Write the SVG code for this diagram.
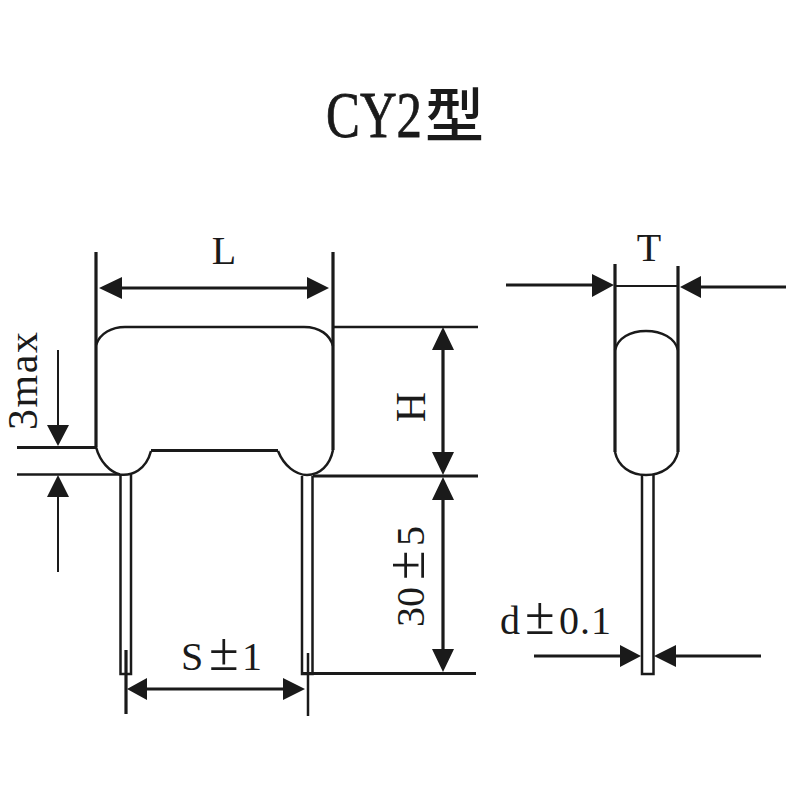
<svg xmlns="http://www.w3.org/2000/svg" width="800" height="800" viewBox="0 0 800 800">
<style>
.o{fill:none;stroke:#1a1a1a;stroke-width:2.5}
.b{fill:none;stroke:#1a1a1a;stroke-width:3.2}
.t{fill:none;stroke:#1a1a1a;stroke-width:2}
.h{fill:#1a1a1a}
text{font-family:"Liberation Serif","Noto Sans CJK SC",serif;fill:#1a1a1a}
.l{font-size:40px}
.p{font-size:54px}
</style>
<rect width="800" height="800" fill="#fff"/>
<g id="title">
<text transform="translate(326 137) scale(.77 1)" font-size="66" stroke="#1a1a1a" stroke-width="0.8">CY2</text>
<text x="425" y="137" font-size="59" font-weight="500" style="font-family:'Noto Sans CJK SC',sans-serif">型</text>
</g>
<g id="front-view">
<path class="o" d="M96 345C100 333 112 327 125 327H304C320 327 330 335 333 346"/>
<path class="b" d="M96 252V447M333 252V450"/>
<path class="o" d="M96 447C100 462 110 472 120 474.500C132 476 146 470 151 451"/>
<path class="b" d="M151 450.500H278"/>
<path class="o" d="M278 451C284 466 296 475 307 475C320 475 330 465 333 450"/>
<path class="o" d="M120.500 475V674H131V475M302 476V674H312.500V476"/>
</g>
<g id="side-view">
<path class="b" d="M615 264V452M678 266V452"/>
<path class="o" d="M615 350C618 338 630 331 646 331C662 331 675 338 678 350M615 452C618 466 630 475 646 475C662 475 675 466 678 452"/>
<path class="o" d="M642 475V674H653.500V475"/>
</g>
<g id="connectors">
<path class="b" d="M115 288H315"/>
<path class="h" d="M99 288L122 277V299ZM329 288L307 277V299Z"/>
<path class="o" d="M333 327H478"/>
<path class="b" d="M17 447.500H96"/>
<path class="o" d="M17 474.500H120"/>
<path class="b" d="M313 476H478M302 673.500H476"/>
<path class="b" d="M443 345V460M443 490V655"/>
<path class="h" d="M443 327L432 350H454ZM443 475L432 452H454ZM443 477L432 500H454ZM443 672L432 649H454Z"/>
<path class="t" d="M58 350V430M58 490V572"/>
<path class="h" d="M58 446L47 425H69ZM58 475L47 497H69Z"/>
<path class="b" d="M126 650V714"/>
<path class="o" d="M308 653V716"/>
<path class="b" d="M140 689H290"/>
<path class="h" d="M127 689L147 678V700ZM305 689L283 678V700Z"/>
<path class="b" d="M506 285H600M786 287H695"/>
<path class="t" d="M615 286H678"/>
<path class="h" d="M614 285L592 274V297ZM680 287L701 276V298Z"/>
<path class="b" d="M534 656H625M761 656H670"/>
<path class="h" d="M641 656L620 645V667ZM654 656L676 645V667Z"/>
</g>
<g id="labels">
<text class="l" x="224" y="264" text-anchor="middle">L</text>
<text class="l" x="649" y="261" text-anchor="middle">T</text>
<text class="l" style="font-size:42px" transform="translate(37 430) rotate(-90)" textLength="98">3max</text>
<text class="l" style="font-size:42px" transform="translate(425 407) rotate(-90)" text-anchor="middle">H</text>
<text class="l" transform="translate(424 627) rotate(-90)"><tspan x="0">3</tspan><tspan x="20">0</tspan><tspan x="47" class="p">±</tspan><tspan x="81">5</tspan></text>
<text class="l" y="670"><tspan x="181">S</tspan><tspan x="209" class="p">±</tspan><tspan x="242">1</tspan></text>
<text class="l" y="634"><tspan x="500">d</tspan><tspan x="525" class="p">±</tspan><tspan x="559">0</tspan><tspan x="580">.</tspan><tspan x="591">1</tspan></text>
</g>
</svg>
